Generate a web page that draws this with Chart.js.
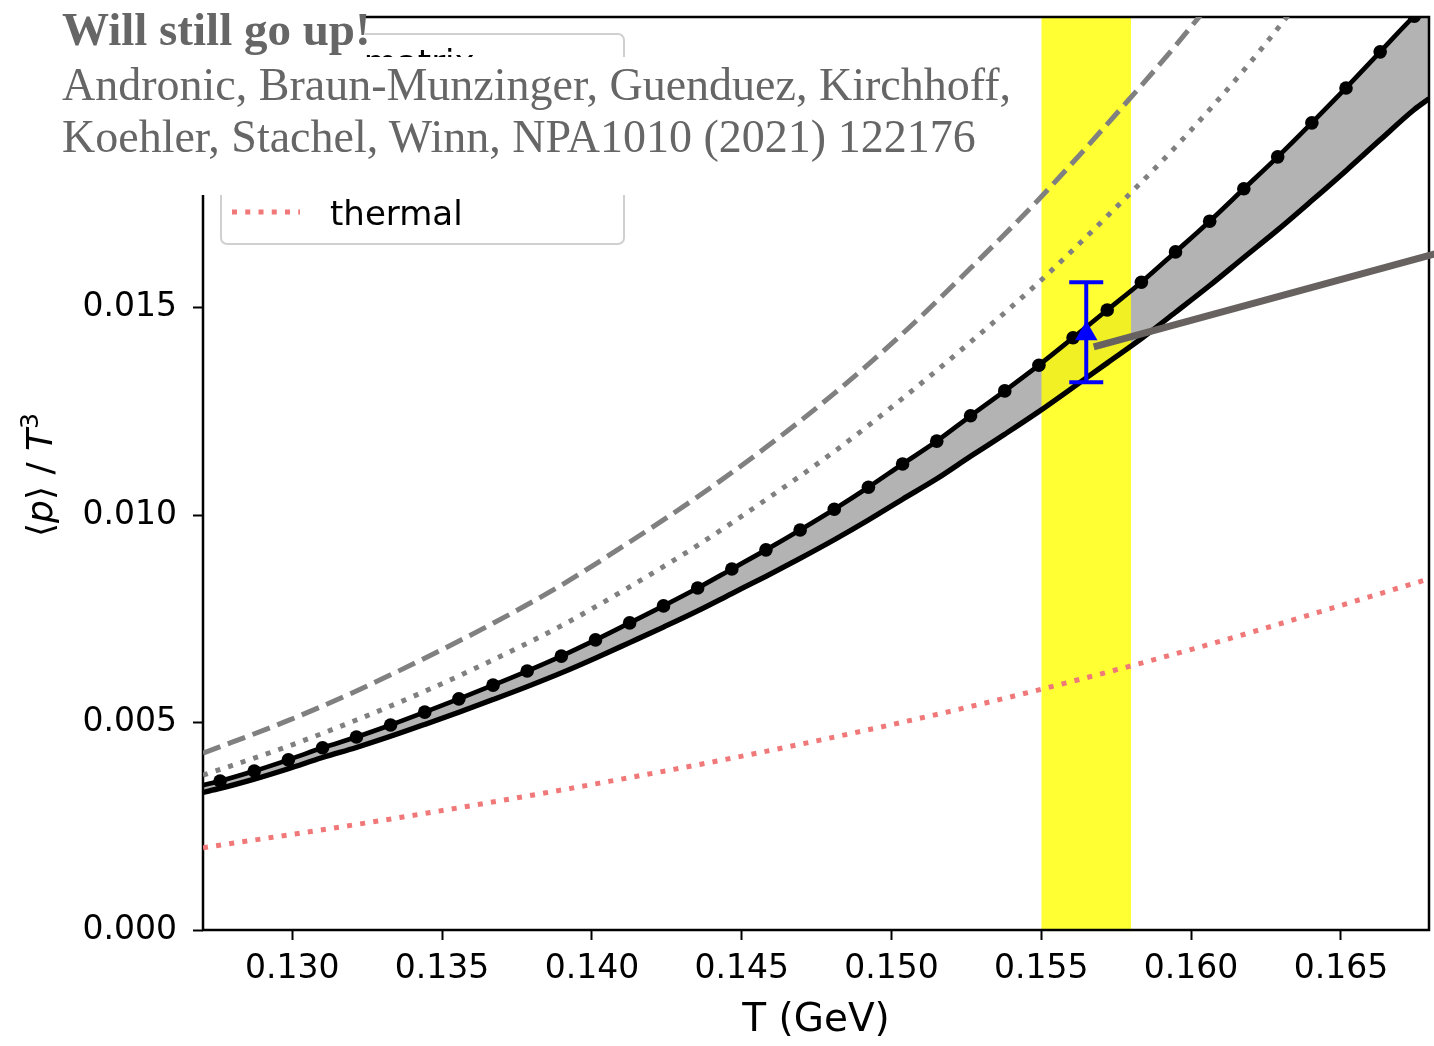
<!DOCTYPE html>
<html>
<head>
<meta charset="utf-8">
<script src="https://cdn.jsdelivr.net/npm/chart.js@4.4.1/dist/chart.umd.min.js"></script>
<style>
  html, body { margin: 0; padding: 0; background: #fff; }
  #wrap { position: relative; width: 1434px; height: 1046px; overflow: hidden; }
  #c { position: absolute; left: 0; top: 0; }
  .cover { position: absolute; background: #fff; }
  .cite { position: absolute; font-family: 'Liberation Serif', 'Times New Roman', serif; color: #666; white-space: nowrap; line-height: 1; }
  #ylabel { position: absolute; left: 40px; top: 475px; transform: translate(-50%, -50%) rotate(-90deg);
            font-family: 'DejaVu Sans', sans-serif; font-size: 36px; white-space: nowrap; line-height: 1; color: #000; }
  #ylabel sup { font-size: 0.7em; vertical-align: 0.55em; line-height: 0; }
  #legend { position: absolute; left: 220px; top: 33px; width: 401px; height: 208px;
            border: 2px solid #d0d0d0; border-radius: 7px; background: rgba(255,255,255,0.8); }
  .lg { position: absolute; font-family: 'DejaVu Sans', sans-serif; font-size: 34px; line-height: 1; white-space: nowrap; color: #000; }
</style>
</head>
<body>
<div id="wrap">
  <canvas id="c" width="1434" height="1046"></canvas>
  <div id="ylabel">⟨<i>p</i>⟩ / <i>T</i><sup>3</sup></div>
  <div id="legend">
    <svg style="position:absolute;left:10px;top:22px" width="70" height="10"><line x1="0" y1="5" x2="68" y2="5" stroke="#000" stroke-width="4.7"/></svg>
    <span class="lg" style="left:108px;top:10px">S-matrix</span>
    <svg style="position:absolute;left:10px;top:172px" width="70" height="10"><line x1="0" y1="5" x2="68" y2="5" stroke="#f07878" stroke-width="5" stroke-dasharray="5 8.25"/></svg>
    <span class="lg" style="left:108px;top:161px">thermal</span>
  </div>
  <div class="cover" style="left:0;top:0;width:365px;height:57px"></div>
  <div class="cover" style="left:0;top:57px;width:1025px;height:138px"></div>
  <div class="cite" style="left:62px;top:6px;font-size:47px;font-weight:bold">Will still go up!</div>
  <div class="cite" style="left:62px;top:62px;font-size:46px">Andronic, Braun-Munzinger, Guenduez, Kirchhoff,</div>
  <div class="cite" style="left:62px;top:114px;font-size:46px">Koehler, Stachel, Winn, NPA1010 (2021) 122176</div>
</div>
<script>
// ---------------- data ----------------
const xMin = 0.12702, xMax = 0.16794, yMax = 0.022;

// S-matrix (upper band edge), points with markers
const tMarkers = [0.12759,0.12873,0.12987,0.13101,0.13214,0.13328,0.13442,0.13556,0.13670,0.13784,
                  0.13898,0.14012,0.14126,0.14239,0.14353,0.14467,0.14581,0.14695,0.14809,0.14923,
                  0.15037,0.15151,0.15264,0.15378,0.15492,0.15606,0.15720,0.15834,0.15948,0.16062,
                  0.16176,0.16289,0.16403,0.16517,0.16631,0.16745];
const pMatrix  = [0.00359,0.00383,0.00410,0.00439,0.00465,0.00494,0.00525,0.00557,0.00590,0.00624,
                  0.00660,0.00699,0.00740,0.00781,0.00824,0.00870,0.00916,0.00964,0.01014,0.01067,
                  0.01123,0.01178,0.01239,0.01299,0.01361,0.01427,0.01494,0.01561,0.01634,0.01708,
                  0.01786,0.01863,0.01945,0.02029,0.02116,0.02202];
// lower band edge (solid black)
const pLower   = [0.003411,0.003635,0.003887,0.004157,0.004398,0.004666,0.004953,0.005249,0.005553,0.005865,
                  0.006195,0.006552,0.006926,0.007300,0.007690,0.008107,0.008523,0.008955,0.009404,0.009880,
                  0.010381,0.010871,0.011414,0.011946,0.012493,0.013075,0.013663,0.014249,0.014886,0.015530,
                  0.016206,0.016870,0.017576,0.018297,0.019040,0.019772];
const tEdge = [0.12702, 0.16794];
const pMatrixEdge = [0.00349, 0.02233];
const pLowerEdge  = [0.003317, 0.02003];

// grey dashed and grey dotted curves
const tCurves = [0.12702,0.12987,0.13214,0.13442,0.13670,0.13898,0.14126,0.14353,0.14581,
                 0.14809,0.15037,0.15264,0.15492,0.15720,0.15948,0.16176,0.16403];
const pDashed = [0.00426,0.00505,0.00576,0.00655,0.00739,0.00831,0.00935,0.01044,0.01163,
                 0.01293,0.01437,0.01595,0.01761,0.01942,0.02131,0.02336,0.02552];
const pDotted = [0.00373,0.00443,0.00506,0.00575,0.00651,0.00733,0.00827,0.00927,0.01037,
                 0.01153,0.01281,0.01417,0.01561,0.01720,0.01887,0.02072,0.02276];

// thermal (red dotted)
const tThermal = [0.12702,0.13359,0.14026,0.14692,0.15359,0.16025,0.16794];
const pThermal = [0.00198,0.00271,0.00354,0.00447,0.00555,0.00681,0.00846];

// measurement with error bar
const tMeas = [0.15650];
const pMeas = [0.01437];
const pMeasLo = [0.01320];
const pMeasHi = [0.01561];

// grey straight annotation line
const tArrow = [0.15675, 0.16900];
const pArrow = [0.01405, 0.01646];

// yellow T_c band
const bandT = [0.155, 0.158];

const xTicksStep = 0.005, yTicksStep = 0.005;

// ---------------- chart ----------------
const pts = (xs, ys) => xs.map((x, i) => ({x: x, y: ys[i]}));
const upperT = [tEdge[0], ...tMarkers, tEdge[1]];
const upperP = [pMatrixEdge[0], ...pMatrix, pMatrixEdge[1]];
const lowerP = [pLowerEdge[0], ...pLower, pLowerEdge[1]];

const LOWER_INDEX = 4, BAND_INDEX = 8;

const framePlugin = {
  id: 'frame',
  afterDatasetDraw(chart, args) {
    if (args.index !== BAND_INDEX) return;
    const a = chart.chartArea, ctx = chart.ctx;
    ctx.save();
    ctx.strokeStyle = '#000';
    ctx.lineWidth = 2.5;
    ctx.strokeRect(a.left, a.top, a.right - a.left, a.bottom - a.top);
    ctx.restore();
  }
};

const errorBarPlugin = {
  id: 'errbars',
  afterDatasetsDraw(chart) {
    const xs = chart.scales.x, ys = chart.scales.y, ctx = chart.ctx;
    ctx.save();
    ctx.strokeStyle = '#0000ff';
    ctx.lineWidth = 4;
    const cap = 17;
    tMeas.forEach((t, i) => {
      const px = xs.getPixelForValue(t);
      const lo = ys.getPixelForValue(pMeasLo[i]);
      const hi = ys.getPixelForValue(pMeasHi[i]);
      ctx.beginPath();
      ctx.moveTo(px, lo); ctx.lineTo(px, hi);
      ctx.moveTo(px - cap, lo); ctx.lineTo(px + cap, lo);
      ctx.moveTo(px - cap, hi); ctx.lineTo(px + cap, hi);
      ctx.stroke();
    });
    ctx.restore();
  }
};

Chart.defaults.font.family = "'DejaVu Sans', sans-serif";
Chart.defaults.color = '#000';

new Chart(document.getElementById('c'), {
  type: 'scatter',
  data: {
    datasets: [
      { // 0 grey annotation line
        type: 'line', data: pts(tArrow, pArrow), borderColor: '#67625f', borderWidth: 7,
        pointRadius: 0, fill: false, clip: false, order: 0, borderCapStyle: 'butt'
      },
      { // 1 measurement
        type: 'scatter', data: pts(tMeas, pMeas), pointStyle: 'triangle', pointRadius: 13,
        backgroundColor: '#0000ff', borderColor: '#0000ff', borderWidth: 0, order: 0
      },
      { // 2 S-matrix markers
        type: 'scatter', data: pts(tMarkers, pMatrix), pointRadius: 6.8,
        backgroundColor: '#000', borderColor: '#000', borderWidth: 0, order: 1, clip: 0
      },
      { // 3 S-matrix line
        type: 'line', data: pts(upperT, upperP), borderColor: '#000', borderWidth: 4.7,
        pointRadius: 0, fill: false, order: 1, clip: 0, cubicInterpolationMode: 'monotone'
      },
      { // 4 lower line
        type: 'line', data: pts(upperT, lowerP), borderColor: '#000', borderWidth: 5.3,
        pointRadius: 0, fill: false, order: 1, clip: 0, cubicInterpolationMode: 'monotone'
      },
      { // 5 grey dashed
        type: 'line', data: pts(tCurves, pDashed), borderColor: '#808080', borderWidth: 5,
        borderDash: [18.5, 8], pointRadius: 0, fill: false, order: 2, clip: 0,
        cubicInterpolationMode: 'monotone', borderCapStyle: 'butt'
      },
      { // 6 grey dotted
        type: 'line', data: pts(tCurves, pDotted), borderColor: '#808080', borderWidth: 5,
        borderDash: [5, 8.25], pointRadius: 0, fill: false, order: 2, clip: 0,
        cubicInterpolationMode: 'monotone', borderCapStyle: 'butt'
      },
      { // 7 thermal
        type: 'line', data: pts(tThermal, pThermal), borderColor: '#f07878', borderWidth: 5,
        borderDash: [5, 8.25], pointRadius: 0, fill: false, order: 2, clip: 0,
        cubicInterpolationMode: 'monotone', borderCapStyle: 'butt'
      },
      { // 8 yellow band
        type: 'line', data: pts(bandT, [yMax, yMax]), borderColor: 'transparent', borderWidth: 0,
        pointRadius: 0, fill: 'origin', backgroundColor: 'rgba(255,255,0,0.8)', order: 5, clip: 0
      },
      { // 9 grey band between the two black curves
        type: 'line', data: pts(upperT, upperP), borderColor: 'transparent', borderWidth: 0,
        pointRadius: 0, fill: LOWER_INDEX, backgroundColor: '#b3b3b3', order: 6, clip: 0,
        cubicInterpolationMode: 'monotone'
      }
    ]
  },
  options: {
    responsive: false,
    animation: false,
    events: [],
    layout: { autoPadding: false, padding: { top: 17, right: 5, left: 0, bottom: 0 } },
    plugins: { legend: { display: false }, tooltip: { enabled: false } },
    scales: {
      x: {
        type: 'linear', min: xMin, max: xMax,
        border: { display: false },
        grid: { drawOnChartArea: false, drawTicks: true, tickLength: 10, tickWidth: 2, tickColor: '#000' },
        ticks: { stepSize: xTicksStep, includeBounds: false, maxRotation: 0, autoSkip: false,
                 padding: 10, font: { size: 33 }, color: '#000',
                 callback: v => Number(v).toFixed(3) },
        title: { display: true, text: 'T (GeV)', font: { size: 39 }, color: '#000', padding: { top: 0, bottom: 2 } },
        afterFit: s => { s.height = 116; s.paddingLeft = 0; s.paddingRight = 0; }
      },
      y: {
        type: 'linear', min: 0, max: yMax,
        border: { display: false },
        grid: { drawOnChartArea: false, drawTicks: true, tickLength: 10, tickWidth: 2, tickColor: '#000' },
        ticks: { stepSize: yTicksStep, includeBounds: false, padding: 16, font: { size: 33 }, color: '#000',
                 callback: v => Number(v).toFixed(3) },
        afterFit: s => { s.width = 203; s.paddingTop = 0; s.paddingBottom = 0; }
      }
    }
  },
  plugins: [framePlugin, errorBarPlugin]
});
</script>
</body>
</html>
